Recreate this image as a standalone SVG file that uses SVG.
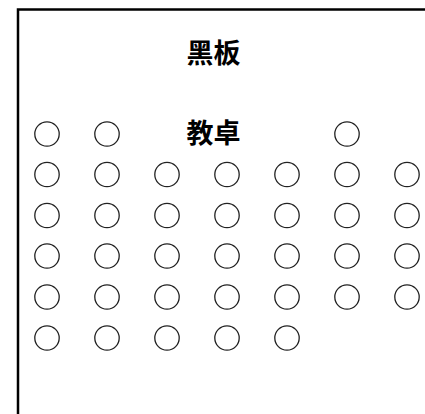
<svg xmlns="http://www.w3.org/2000/svg" width="425" height="414" viewBox="0 0 425 414">
<style>
.seat{fill:none;stroke:#222;stroke-width:1.3}
.lbl{font-family:"Liberation Serif","Noto Sans CJK SC",serif;font-weight:bold;font-size:27px;fill:#000;text-anchor:middle}
</style>
<defs><circle id="s" r="12.2" class="seat"/></defs>
<rect x="18" y="9.5" width="430" height="420" fill="#fff" stroke="#000" stroke-width="2.5"/>
<g id="blackboard"><text class="lbl" x="213.5" y="63">黑板</text></g>
<g id="desk"><text class="lbl" x="213.5" y="143">教卓</text></g>
<g id="seats">
<use href="#s" x="47" y="134"/><use href="#s" x="107" y="134"/><use href="#s" x="347" y="134"/>
<use href="#s" x="47" y="174.5"/><use href="#s" x="107" y="174.5"/><use href="#s" x="167" y="174.5"/><use href="#s" x="227" y="174.5"/><use href="#s" x="287" y="174.5"/><use href="#s" x="347" y="174.5"/><use href="#s" x="407" y="174.5"/>
<use href="#s" x="47" y="215.5"/><use href="#s" x="107" y="215.5"/><use href="#s" x="167" y="215.5"/><use href="#s" x="227" y="215.5"/><use href="#s" x="287" y="215.5"/><use href="#s" x="347" y="215.5"/><use href="#s" x="407" y="215.5"/>
<use href="#s" x="47" y="256"/><use href="#s" x="107" y="256"/><use href="#s" x="167" y="256"/><use href="#s" x="227" y="256"/><use href="#s" x="287" y="256"/><use href="#s" x="347" y="256"/><use href="#s" x="407" y="256"/>
<use href="#s" x="47" y="297"/><use href="#s" x="107" y="297"/><use href="#s" x="167" y="297"/><use href="#s" x="227" y="297"/><use href="#s" x="287" y="297"/><use href="#s" x="347" y="297"/><use href="#s" x="407" y="297"/>
<use href="#s" x="47" y="338"/><use href="#s" x="107" y="338"/><use href="#s" x="167" y="338"/><use href="#s" x="227" y="338"/><use href="#s" x="287" y="338"/>
</g>
</svg>
